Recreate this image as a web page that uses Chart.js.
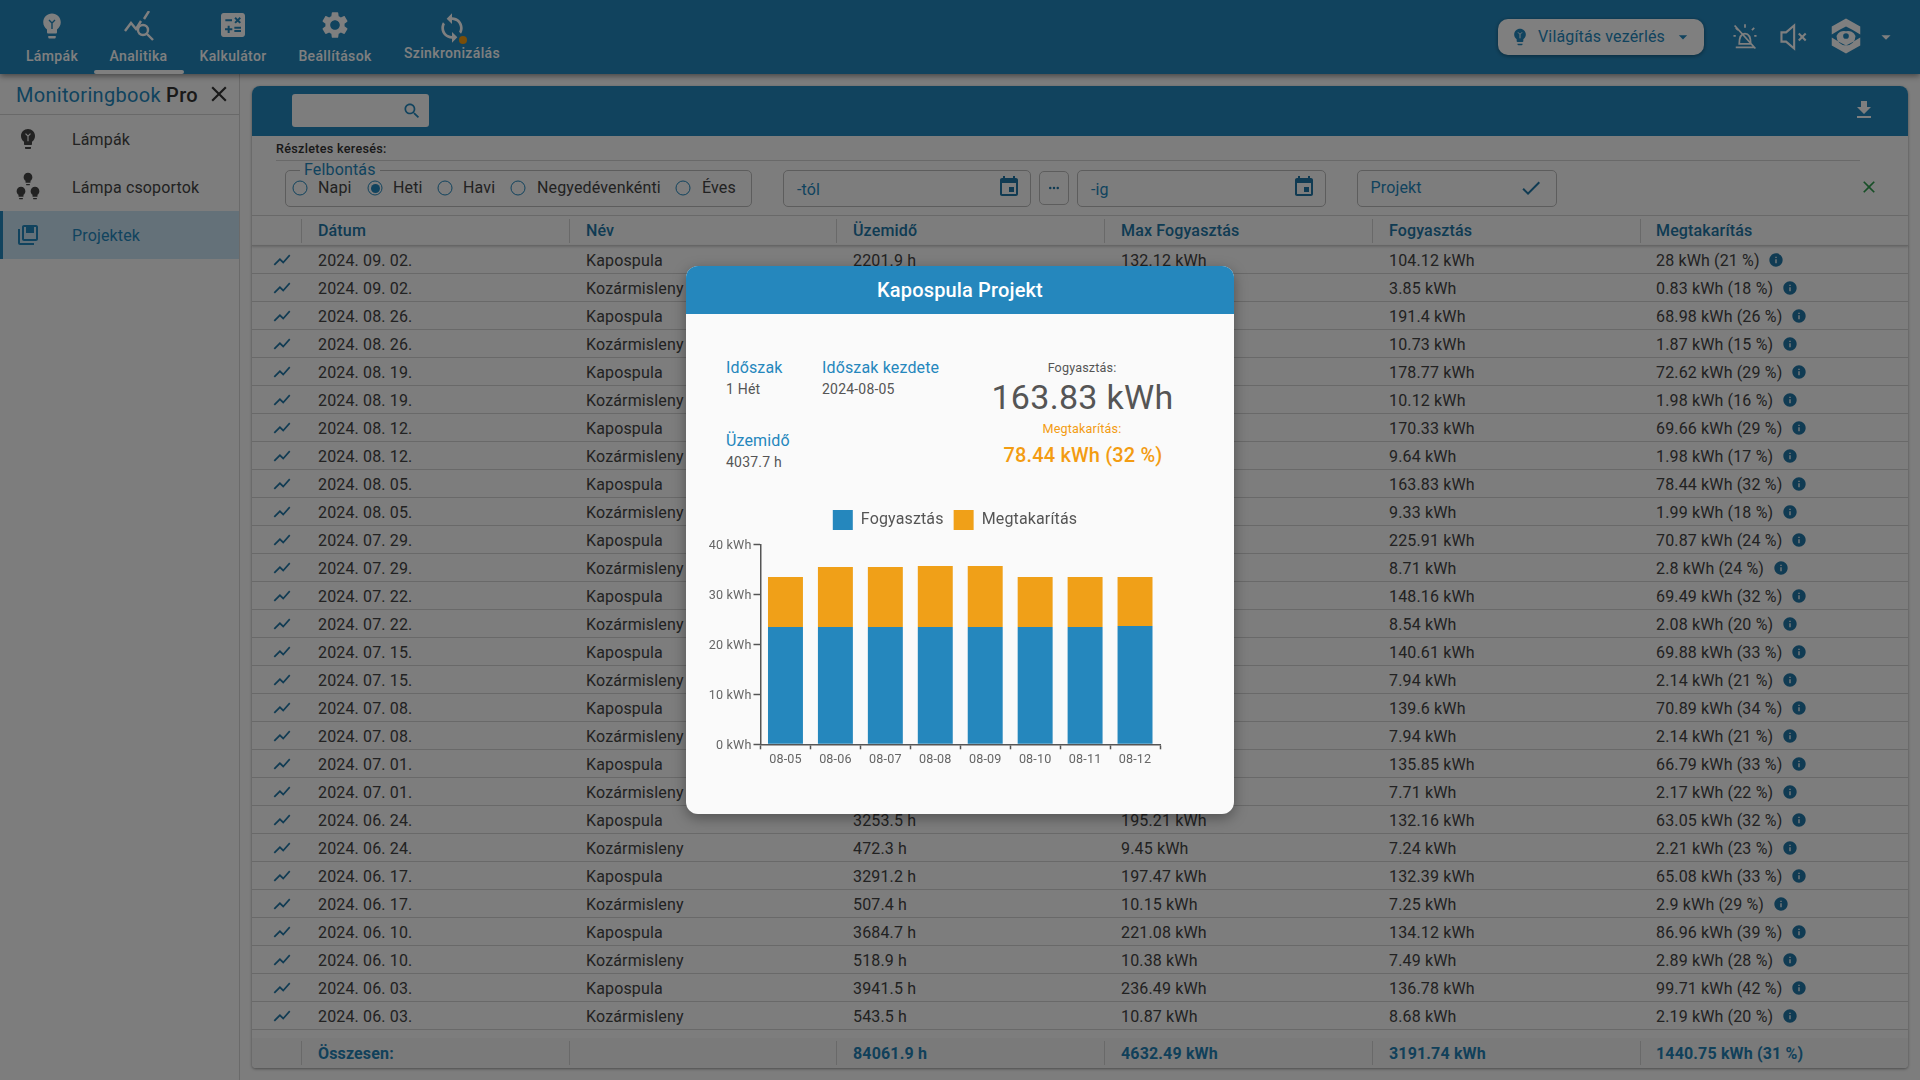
<!DOCTYPE html>
<html lang="hu">
<head>
<meta charset="utf-8">
<title>Kapospula Projekt</title>
<script src="https://cdn.jsdelivr.net/npm/chart.js@4"></script>
<style>
  html, body { margin: 0; padding: 0; }
  body { width: 1920px; height: 1080px; overflow: hidden; position: relative; background: #fafafa; font-family: Roboto, sans-serif; color: #333; letter-spacing: .15px; }
  .abs { position: absolute; white-space: nowrap; }
  .mid { transform: translateY(-50%); line-height: 1; }
  .ico { position: absolute; transform: translate(-50%, -50%); display: block; }
  #nav { position: absolute; left: 0; top: 0; width: 1920px; height: 74px; background: #2387bd; box-shadow: 0 2px 6px rgba(0,0,0,.45); z-index: 2; }
  .navlabel { font-size: 14px; font-weight: 500; color: #fff; transform: translate(-50%, -50%); line-height: 1; letter-spacing: .35px; }
  #side { position: absolute; left: 0; top: 74px; width: 239px; height: 1006px; background: #fafafa; border-right: 1px solid #d5d5d5; }
  #card { position: absolute; left: 252px; top: 86px; width: 1656px; height: 982px; background: #fafafa; border-radius: 8px 8px 4px 4px; box-shadow: 0 1px 3px rgba(0,0,0,.4); }
  .field { position: absolute; box-sizing: border-box; border: 1px solid #bbb; border-radius: 5px; }
  .radio { position: absolute; box-sizing: border-box; width: 15px; height: 15px; border: 1.5px solid #2387bd; border-radius: 50%; transform: translate(-50%, -50%); }
  .hline { position: absolute; height: 1px; background: #d2d2d2; }
  .vline { position: absolute; width: 1px; background: #d2d2d2; }
  .th { font-size: 16px; font-weight: 500; color: #2076a6; }
  .td { font-size: 16px; color: #444; }
  .ft { font-size: 16px; font-weight: 700; color: #2381b5; }
  #dim { position: absolute; left: 0; top: 0; width: 1920px; height: 1080px; background: rgba(0,0,0,.5); z-index: 5; }
  #modal { position: absolute; left: 686px; top: 266px; width: 548px; height: 548px; background: #fafafa; border-radius: 12px; overflow: hidden; z-index: 6; box-shadow: 0 4px 14px rgba(0,0,0,.35); }
  #modalhead { position: absolute; left: 0; top: 0; width: 548px; height: 48px; background: #2587bd; color: #fff; font-size: 20px; font-weight: 500; text-align: center; line-height: 48px; }
  #chartbox { position: absolute; left: 14px; top: 234px; width: 510px; height: 300px; }
</style>
</head>
<body>
<div id="nav"></div>
<div id="side"></div>
<div id="card"></div>
<div id="rows"></div>
<div id="dim"></div>
<div id="modal">
  <div id="modalhead">Kapospula Projekt</div>
  <div class="abs mid" style="left:40px;top:102px;font-size:16px;color:#2587bd">Időszak</div>
  <div class="abs mid" style="left:40px;top:123px;font-size:14px;color:#555;letter-spacing:.2px">1 Hét</div>
  <div class="abs mid" style="left:136px;top:102px;font-size:16px;color:#2587bd">Időszak kezdete</div>
  <div class="abs mid" style="left:136px;top:123px;font-size:14px;color:#555;letter-spacing:.2px">2024-08-05</div>
  <div class="abs mid" style="left:40px;top:175px;font-size:16px;color:#2587bd">Üzemidő</div>
  <div class="abs mid" style="left:40px;top:196px;font-size:14px;color:#555;letter-spacing:.2px">4037.7 h</div>
  <div class="abs mid" style="left:396px;top:102px;font-size:12.6px;color:#555;transform:translate(-50%,-50%)">Fogyasztás:</div>
  <div class="abs mid" style="left:396.5px;top:131px;font-size:34px;color:#555;letter-spacing:.3px;transform:translate(-50%,-50%)">163.83 kWh</div>
  <div class="abs mid" style="left:396px;top:163px;font-size:12.6px;color:#f39c12;transform:translate(-50%,-50%)">Megtakarítás:</div>
  <div class="abs mid" style="left:397px;top:189px;font-size:20px;font-weight:500;color:#f39c12;letter-spacing:.15px;transform:translate(-50%,-50%)">78.44 kWh (32 %)</div>
  <div id="chartbox"><canvas id="chart" width="510" height="300"></canvas></div>
</div>
<script>
// chart values
const days = ['08-05', '08-06', '08-07', '08-08', '08-09', '08-10', '08-11', '08-12'];
const consumption = [23.47, 23.47, 23.47, 23.47, 23.47, 23.47, 23.47, 23.67];
const saving = [10, 12, 12, 12.2, 12.2, 10, 10, 9.8];
const yTickLabels = ['0 kWh', '10 kWh', '20 kWh', '30 kWh', '40 kWh'];

// table behind the dialog, '' where the dialog covers the cell
const rowDates = ['2024. 09. 02.', '2024. 09. 02.', '2024. 08. 26.', '2024. 08. 26.', '2024. 08. 19.', '2024. 08. 19.', '2024. 08. 12.', '2024. 08. 12.', '2024. 08. 05.', '2024. 08. 05.', '2024. 07. 29.', '2024. 07. 29.', '2024. 07. 22.', '2024. 07. 22.', '2024. 07. 15.', '2024. 07. 15.', '2024. 07. 08.', '2024. 07. 08.', '2024. 07. 01.', '2024. 07. 01.', '2024. 06. 24.', '2024. 06. 24.', '2024. 06. 17.', '2024. 06. 17.', '2024. 06. 10.', '2024. 06. 10.', '2024. 06. 03.', '2024. 06. 03.'];
const rowNames = ['Kapospula', 'Kozármisleny'];
const rowHours = ['2201.9 h', '', '', '', '', '', '', '', '', '', '', '', '', '', '', '', '', '', '', '', '3253.5 h', '472.3 h', '3291.2 h', '507.4 h', '3684.7 h', '518.9 h', '3941.5 h', '543.5 h'];
const rowMax = ['132.12 kWh', '', '', '', '', '', '', '', '', '', '', '', '', '', '', '', '', '', '', '', '195.21 kWh', '9.45 kWh', '197.47 kWh', '10.15 kWh', '221.08 kWh', '10.38 kWh', '236.49 kWh', '10.87 kWh'];
const rowUsed = ['104.12 kWh', '3.85 kWh', '191.4 kWh', '10.73 kWh', '178.77 kWh', '10.12 kWh', '170.33 kWh', '9.64 kWh', '163.83 kWh', '9.33 kWh', '225.91 kWh', '8.71 kWh', '148.16 kWh', '8.54 kWh', '140.61 kWh', '7.94 kWh', '139.6 kWh', '7.94 kWh', '135.85 kWh', '7.71 kWh', '132.16 kWh', '7.24 kWh', '132.39 kWh', '7.25 kWh', '134.12 kWh', '7.49 kWh', '136.78 kWh', '8.68 kWh'];
const rowSaved = ['28 kWh (21 %)', '0.83 kWh (18 %)', '68.98 kWh (26 %)', '1.87 kWh (15 %)', '72.62 kWh (29 %)', '1.98 kWh (16 %)', '69.66 kWh (29 %)', '1.98 kWh (17 %)', '78.44 kWh (32 %)', '1.99 kWh (18 %)', '70.87 kWh (24 %)', '2.8 kWh (24 %)', '69.49 kWh (32 %)', '2.08 kWh (20 %)', '69.88 kWh (33 %)', '2.14 kWh (21 %)', '70.89 kWh (34 %)', '2.14 kWh (21 %)', '66.79 kWh (33 %)', '2.17 kWh (22 %)', '63.05 kWh (32 %)', '2.21 kWh (23 %)', '65.08 kWh (33 %)', '2.9 kWh (29 %)', '86.96 kWh (39 %)', '2.89 kWh (28 %)', '99.71 kWh (42 %)', '2.19 kWh (20 %)'];
const headers = ['Dátum', 'Név', 'Üzemidő', 'Max Fogyasztás', 'Fogyasztás', 'Megtakarítás'];
const totals = ['Összesen:', '', '84061.9 h', '4632.49 kWh', '3191.74 kWh', '1440.75 kWh (31 %)'];
const colText = [318, 586, 853, 1121, 1389, 1656];
const colLine = [301, 569, 836, 1104, 1372, 1640];

// material icon paths
const P = {
  bulb: 'M9 21c0 .55.45 1 1 1h4c.55 0 1-.45 1-1v-1H9v1zm3-19C8.14 2 5 5.14 5 9c0 2.38 1.19 4.47 3 5.74V17c0 .55.45 1 1 1h6c.55 0 1-.45 1-1v-2.26c1.81-1.27 3-3.36 3-5.74 0-3.86-3.14-7-7-7z',
  calc: 'M19 3H5c-1.1 0-2 .9-2 2v14c0 1.1.9 2 2 2h14c1.1 0 2-.9 2-2V5c0-1.1-.9-2-2-2zm-5.97 4.06L14.09 6l1.41 1.41L16.91 6l1.06 1.06-1.41 1.41 1.41 1.41-1.06 1.06-1.41-1.4-1.41 1.41-1.06-1.06 1.41-1.41-1.41-1.42zm-6.78.66h5v1.5h-5v-1.5zM11.5 16h-2v2H8v-2H6v-1.5h2v-2h1.5v2h2V16zm6.5 1.25h-5v-1.5h5v1.5zm0-2.5h-5v-1.5h5v1.5z',
  gear: 'M19.14 12.94c.04-.3.06-.61.06-.94 0-.32-.02-.64-.07-.94l2.03-1.58c.18-.14.23-.41.12-.61l-1.92-3.32c-.12-.22-.37-.29-.59-.22l-2.39.96c-.5-.38-1.03-.7-1.62-.94l-.36-2.54c-.04-.24-.24-.41-.48-.41h-3.84c-.24 0-.43.17-.47.41l-.36 2.54c-.59.24-1.13.57-1.62.94l-2.39-.96c-.22-.08-.47 0-.59.22L2.74 8.87c-.12.21-.08.47.12.61l2.03 1.58c-.05.3-.09.63-.09.94s.02.64.07.94l-2.03 1.58c-.18.14-.23.41-.12.61l1.92 3.32c.12.22.37.29.59.22l2.39-.96c.5.38 1.03.7 1.62.94l.36 2.54c.05.24.24.41.48.41h3.84c.24 0 .44-.17.47-.41l.36-2.54c.59-.24 1.13-.56 1.62-.94l2.39.96c.22.08.47 0 .59-.22l1.92-3.32c.12-.22.07-.47-.12-.61l-2.01-1.58zM12 15.6c-1.98 0-3.6-1.62-3.6-3.6s1.62-3.6 3.6-3.6 3.6 1.62 3.6 3.6-1.62 3.6-3.6 3.6z',
  sync: 'M12 4V1L8 5l4 4V6c3.31 0 6 2.69 6 6 0 1.01-.25 1.97-.7 2.8l1.46 1.46C19.54 15.03 20 13.57 20 12c0-4.42-3.58-8-8-8zm0 14c-3.31 0-6-2.69-6-6 0-1.01.25-1.97.7-2.8L5.24 7.74C4.46 8.97 4 10.43 4 12c0 4.42 3.58 8 8 8v3l4-4-4-4v3z',
  search: 'M15.5 14h-.79l-.28-.27C15.41 12.59 16 11.11 16 9.5 16 5.91 13.09 3 9.5 3S3 5.91 3 9.5 5.91 16 9.5 16c1.61 0 3.09-.59 4.23-1.57l.27.28v.79l5 4.99L20.49 19l-4.99-5zm-6 0C7.01 14 5 11.99 5 9.5S7.01 5 9.5 5 14 7.01 14 9.5 11.99 14 9.5 14z',
  cal: 'M17 12h-5v5h5v-5zM16 1v2H8V1H6v2H5c-1.11 0-1.99.9-1.99 2L3 19c0 1.1.89 2 2 2h14c1.1 0 2-.9 2-2V5c0-1.1-.9-2-2-2h-1V1h-2zm3 18H5V8h14v11z',
  dl: 'M19 9h-4V3H9v6H5l7 7 7-7zM5 18v2h14v-2H5z',
  check: 'M9 16.17L4.83 12l-1.42 1.41L9 19 21 7l-1.41-1.41z',
  close: 'M19 6.41L17.59 5 12 10.59 6.41 5 5 6.41 10.59 12 5 17.59 6.41 19 12 13.41 17.59 19 19 17.59 13.41 12z',
  chart: 'M3.5 18.49l6-6.01 4 4L22 6.92l-1.41-1.41-7.09 7.97-4-4L2 16.99z',
  info: 'M12 2C6.48 2 2 6.48 2 12s4.48 10 10 10 10-4.48 10-10S17.52 2 12 2zm1 15h-2v-6h2v6zm0-8h-2V7h2v2z',
  lib: 'M4 6H2v14c0 1.1.9 2 2 2h14v-2H4V6zm16-4H8c-1.1 0-2 .9-2 2v12c0 1.1.9 2 2 2h12c1.1 0 2-.9 2-2V4c0-1.1-.9-2-2-2zm0 14H8V4h12v12z',
  libTop: 'M10 4h8v6h-8z',
  caret: 'M7 10l5 5 5-5z',
  dots: 'M6 10a2 2 0 1 0 0 4 2 2 0 0 0 0-4zm6 0a2 2 0 1 0 0 4 2 2 0 0 0 0-4zm6 0a2 2 0 1 0 0 4 2 2 0 0 0 0-4z',
  hex: 'M12 1L21 6v5l-5-3 -4-2-4 2-5 3V6zM3 13l5 3 4 2 4-2 5-3v5l-9 5-9-5zM12 9a5 5 0 0 0-6 3 5 5 0 0 0 12 0 5 5 0 0 0-6-3zm0 1.2a1.8 1.8 0 1 1 0 3.6 1.8 1.8 0 0 1 0-3.6z'
};

const root = document.getElementById('rows');
function addHtml(html) { root.insertAdjacentHTML('beforeend', html); }
function icon(path, x, y, size, color) {
  addHtml(`<svg class="ico" style="left:${x}px;top:${y}px;z-index:3" width="${size}" height="${size}" viewBox="0 0 24 24"><path fill="${color}" d="${path}"/></svg>`);
}
function text(str, x, y, size, color, weight) {
  addHtml(`<div class="abs mid" style="left:${x}px;top:${y}px;font-size:${size}px;color:${color};font-weight:${weight || 400};z-index:3">${str}</div>`);
}
function field(x, y, w, h) {
  addHtml(`<div class="field" style="left:${x}px;top:${y}px;width:${w}px;height:${h}px"></div>`);
}
// the small Y shaped filament inside a bulb
function filament(x, y, size, color) {
  addHtml(`<svg class="ico" style="left:${x}px;top:${y}px;z-index:3" width="${size}" height="${size}" viewBox="0 0 12 12" fill="none" stroke="${color}" stroke-width="1.4"><path d="M3 2l3 3 3-3M6 5v6"/></svg>`);
}

// top bar
const navItems = [['Lámpák', 52, P.bulb, 30, 26, 56], ['Analitika', 138.5, null, 0, 25, 56], ['Kalkulátor', 233, P.calc, 32, 25, 56], ['Beállítások', 335, P.gear, 32, 25, 56], ['Szinkronizálás', 452, P.sync, 32, 28, 53]];
navItems.forEach(([label, x, path, size, iy, ty]) => {
  addHtml(`<div class="abs navlabel" style="left:${x}px;top:${ty}px;z-index:3">${label}</div>`);
  if (path) icon(path, x, iy, size, '#fff');
});
filament(52, 24, 12, '#2387bd');
addHtml(`<svg class="ico" style="left:139px;top:26px;z-index:3" width="32" height="30" viewBox="0 0 32 30" fill="none" stroke="#fff" stroke-width="2.4"><path d="M2 20l6-8 5 6 5-8M21 8l5-8"/><circle cx="20" cy="19" r="5"/><path d="M24 23l6 6"/></svg>`);
addHtml(`<div class="abs" style="left:94px;top:70px;width:90px;height:4px;background:#fff;border-radius:2px;z-index:3"></div>`);
addHtml(`<div class="abs" style="left:459px;top:36px;width:8px;height:8px;background:#f39c12;border-radius:50%;z-index:3"></div>`);
addHtml(`<div class="abs" style="left:1498px;top:19px;width:206px;height:36px;background:#fff;border-radius:10px;box-shadow:0 1px 4px rgba(0,0,0,.4);z-index:3"></div>`);
icon(P.bulb, 1520, 37, 20, '#2387bd');
filament(1520, 35, 8, '#fff');
text('Világítás vezérlés', 1538, 37, 16, '#2387bd');
icon(P.caret, 1683, 37, 20, '#2387bd');
addHtml(`<svg class="ico" style="left:1745px;top:37px;z-index:3" width="30" height="30" viewBox="0 0 26 26" fill="none" stroke="#fff" stroke-width="1.5"><path d="M5 22h16M8 19c0-5 1-9 5-9s5 4 5 9zM13 2v3M3 12h2M21 12h2M5 5l2 2M21 5l-2 2M4 3l18 20"/></svg>`);
addHtml(`<svg class="ico" style="left:1793px;top:37px;z-index:3" width="30" height="30" viewBox="0 0 26 26" fill="none" stroke="#fff" stroke-width="1.8"><path d="M3 9v8h4l7 6V3L7 9zM18 10l6 6M24 10l-6 6"/></svg>`);
icon(P.hex, 1846, 36, 38, '#fff');
icon(P.caret, 1886, 37, 22, '#fff');

// side menu
addHtml(`<div class="abs mid" style="left:16px;top:95px;font-size:20px;color:#2387bd;letter-spacing:.3px;z-index:3">Monitoringbook <span style="color:#333;font-weight:500">Pro</span></div>`);
icon(P.close, 219, 94, 26, '#333');
addHtml(`<div class="hline" style="left:0;top:114px;width:239px"></div>`);
addHtml(`<div class="abs" style="left:0;top:211px;width:239px;height:48px;background:#c8e2f2"></div>`);
addHtml(`<div class="abs" style="left:0;top:211px;width:3px;height:48px;background:#2387bd"></div>`);
icon(P.bulb, 28, 139, 24, '#444');
filament(28, 137, 10, '#fafafa');
text('Lámpák', 72, 140, 16, '#444');
icon(P.bulb, 28, 179, 15, '#444'); icon(P.bulb, 21, 193, 15, '#444'); icon(P.bulb, 35, 193, 15, '#444');
text('Lámpa csoportok', 72, 188, 16, '#444');
icon(P.lib, 28, 235, 24, '#2387bd');
icon(P.libTop, 28, 235, 24, '#2387bd');
text('Projektek', 72, 236, 16, '#2387bd');

// toolbar
addHtml(`<div class="abs" style="left:252px;top:86px;width:1656px;height:50px;background:#2387bd;border-radius:8px 8px 0 0"></div>`);
addHtml(`<div class="abs" style="left:292px;top:94px;width:137px;height:33px;background:#fafafa;border-radius:3px"></div>`);
icon(P.search, 412, 111, 20, '#2387bd');
icon(P.dl, 1864, 110, 24, '#fff');

// filter row
addHtml(`<div class="abs mid" style="left:276px;top:149px;font-size:12.6px;font-weight:500;color:#333;letter-spacing:.3px">Részletes keresés:</div>`);
addHtml(`<div class="hline" style="left:276px;top:160px;width:1584px"></div>`);
field(284.5, 169.5, 467, 37);
addHtml(`<div class="abs mid" style="left:300px;top:170px;padding:0 4px;background:#fafafa;font-size:16px;color:#2387bd;line-height:16px">Felbontás</div>`);
[['Napi', 300, 318], ['Heti', 375, 393], ['Havi', 445, 463], ['Negyedévenkénti', 518, 537], ['Éves', 683, 702]].forEach(([label, cx, tx], i) => {
  addHtml(`<div class="radio" style="left:${cx}px;top:188px"></div>`);
  text(label, tx, 187.5, 16, '#444');
  if (i === 1) addHtml(`<div class="abs" style="left:${cx - 4.5}px;top:183.5px;width:9px;height:9px;border-radius:50%;background:#2387bd"></div>`);
});
field(783, 169.5, 247.5, 37);
text('-tól', 797, 190, 16, '#2387bd');
icon(P.cal, 1009, 187, 24, '#2076a6');
field(1039, 171, 30, 34);
icon(P.dots, 1054, 188, 15, '#2076a6');
field(1077, 169.5, 248.5, 37);
text('-ig', 1091, 190, 16, '#2387bd');
icon(P.cal, 1304, 187, 24, '#2076a6');
field(1357, 169.5, 199.5, 37);
text('Projekt', 1370.5, 187.5, 16, '#2387bd');
icon(P.check, 1531, 188, 24, '#2076a6');
icon(P.close, 1869, 187, 20, '#2e9e4f');

// table head
addHtml(`<div class="hline" style="left:252px;top:215px;width:1656px"></div>`);
addHtml(`<div class="abs" style="left:252px;top:245px;width:1656px;height:1px;background:#ccc;box-shadow:0 1px 2px rgba(0,0,0,.25)"></div>`);
headers.forEach((h, i) => {
  addHtml(`<div class="abs mid th" style="left:${colText[i]}px;top:231px">${h}</div>`);
  addHtml(`<div class="vline" style="left:${colLine[i]}px;top:219px;height:24px"></div>`);
});

// table rows
rowDates.forEach((d, i) => {
  const y = 260 + i * 28;
  addHtml(`<div class="hline" style="left:252px;top:${y + 13}px;width:1656px"></div>`);
  icon(P.chart, 282, y, 20, '#2076a6');
  [d, rowNames[i % 2], rowHours[i], rowMax[i], rowUsed[i]].forEach((cell, c) => {
    if (cell) addHtml(`<div class="abs mid td" style="left:${colText[c]}px;top:${y + 1}px">${cell}</div>`);
  });
  addHtml(`<div class="abs td" style="left:1656px;top:${y + 1}px;transform:translateY(-50%);line-height:16px;display:flex;align-items:center">${rowSaved[i]}<svg style="margin-left:8.5px;position:relative;top:-1px" width="16" height="16" viewBox="0 0 24 24"><path fill="#2076a6" d="${P.info}"/></svg></div>`);
});

// footer
addHtml(`<div class="abs" style="left:252px;top:1038px;width:1656px;height:30px;background:#f5f5f5;border-radius:0 0 4px 4px"></div>`);
totals.forEach((t, i) => {
  if (t) addHtml(`<div class="abs mid ft" style="left:${colText[i]}px;top:1054px">${t}</div>`);
  addHtml(`<div class="vline" style="left:${colLine[i]}px;top:1041px;height:24px"></div>`);
});

// the chart itself
Chart.defaults.font.family = 'Roboto, sans-serif';
Chart.defaults.color = '#666';
new Chart(document.getElementById('chart'), {
  type: 'bar',
  data: {
    labels: days,
    datasets: [
      { label: 'Fogyasztás', data: consumption, backgroundColor: '#2587bd', stack: 'a' },
      { label: 'Megtakarítás', data: saving, backgroundColor: '#f0a018', stack: 'a' }
    ]
  },
  plugins: [{
    id: 'legendGap',
    beforeInit(chart) {
      const fit = chart.legend.fit;
      chart.legend.fit = function () {
        fit.call(this);
        this.height += 4.3;
      };
    }
  }],
  options: {
    responsive: false,
    animation: false,
    layout: { padding: { left: 0, right: 0, top: 0, bottom: 28.7 } },
    datasets: { bar: { categoryPercentage: 1, barPercentage: 0.7 } },
    plugins: {
      tooltip: { enabled: false },
      legend: {
        position: 'top',
        labels: { boxWidth: 20, boxHeight: 20, padding: 10, font: { size: 16 }, color: '#555' }
      }
    },
    scales: {
      x: {
        stacked: true,
        afterFit(scale) { scale.height = 27; },
        border: { color: '#555', width: 1.5 },
        grid: { drawOnChartArea: false, tickLength: 5, tickColor: '#555', tickWidth: 1.5 },
        ticks: { font: { size: 12.6 }, color: '#666', padding: 3, maxRotation: 0 }
      },
      y: {
        stacked: true,
        min: 0,
        max: 40,
        afterFit(scale) { scale.width = 60.5; },
        border: { color: '#555', width: 1.5 },
        grid: { drawOnChartArea: false, tickLength: 7, tickColor: '#555', tickWidth: 1.5 },
        ticks: {
          stepSize: 10,
          font: { size: 12.6 },
          color: '#666',
          padding: 2,
          labelOffset: 1.5,
          callback: (value) => yTickLabels[value / 10]
        }
      },
      // empty right side margin, keeps the legend centred on the whole canvas
      rightGap: {
        axis: 'y',
        position: 'right',
        afterFit(scale) { scale.width = 50; },
        border: { display: false },
        grid: { display: false },
        ticks: { display: false }
      }
    }
  }
});
</script>
</body>
</html>
